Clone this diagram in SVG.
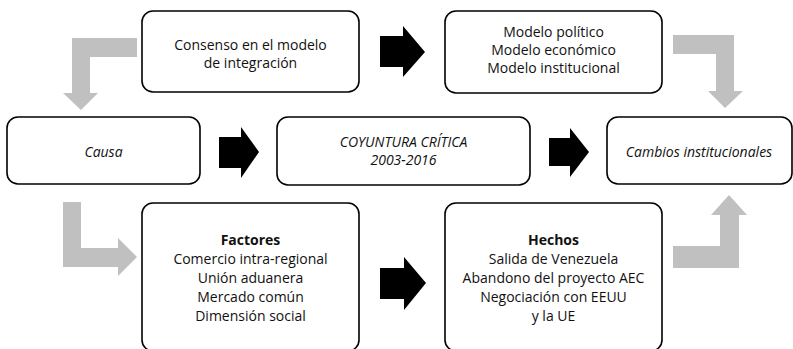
<svg xmlns="http://www.w3.org/2000/svg" width="793" height="349" viewBox="0 0 793 349">
<style>
.box{fill:#fff;stroke:#000;stroke-width:1.6}
.t{font-family:"Open Sans","Noto Sans",sans-serif;font-size:14px;fill:#111;text-anchor:middle}
.i{font-style:italic}
.b{font-weight:bold}
.blk{fill:#000}
.gry{fill:#c0c0c0}
</style>
<rect width="793" height="349" fill="#fff"/>
<g id="connectors">
<polygon class="blk" points="380,36 403,36 403,26 425,52 403,77 403,67 380,67"/>
<polygon class="blk" points="219,137 241,137 241,127 259,152 241,178 241,168 219,168"/>
<polygon class="blk" points="549,138 570,138 570,128 589,152 570,177 570,166 549,166"/>
<polygon class="blk" points="380,268 404,268 404,257 426,283 404,310 404,299 380,299"/>
<polygon class="gry" points="137,38 72,38 72,93 63,93 81,110 98,93 90,93 90,57 137,57"/>
<polygon class="gry" points="673,35 734,35 734,91 743,91 725,108 708,91 716,91 716,54 673,54"/>
<polygon class="gry" points="63,202 81,202 81,248 118,248 118,238 137,257 118,276 118,267 63,267"/>
<polygon class="gry" points="673,246 720,246 720,215 711,215 729,195 747,215 739,215 739,268 673,268"/>
</g>
<g id="consenso">
<rect class="box" x="142" y="11" width="217" height="81" rx="11"/>
<text class="t" x="250.5" y="50">Consenso en el modelo</text>
<text class="t" x="250.5" y="68">de integración</text>
</g>
<g id="modelos">
<rect class="box" x="445" y="11" width="217" height="82" rx="11"/>
<text class="t" x="553.5" y="37">Modelo político</text>
<text class="t" x="553.5" y="55">Modelo económico</text>
<text class="t" x="553.5" y="73">Modelo institucional</text>
</g>
<g id="causa">
<rect class="box" x="7" y="117" width="193" height="67" rx="11"/>
<text class="t i" x="103.5" y="157">Causa</text>
</g>
<g id="coyuntura">
<rect class="box" x="277" y="117" width="253" height="68" rx="11"/>
<text class="t i" x="403.5" y="147">COYUNTURA CRÍTICA</text>
<text class="t i" x="403.5" y="165">2003-2016</text>
</g>
<g id="cambios">
<rect class="box" x="607" y="117" width="185" height="67" rx="11"/>
<text class="t i" x="699" y="157">Cambios institucionales</text>
</g>
<g id="factores">
<rect class="box" x="142" y="203" width="217" height="148" rx="11"/>
<text class="t b" x="250.5" y="245">Factores</text>
<text class="t" x="250.5" y="264">Comercio intra-regional</text>
<text class="t" x="250.5" y="283">Unión aduanera</text>
<text class="t" x="250.5" y="302">Mercado común</text>
<text class="t" x="250.5" y="321">Dimensión social</text>
</g>
<g id="hechos">
<rect class="box" x="445" y="203" width="217" height="148" rx="11"/>
<text class="t b" x="553.5" y="245">Hechos</text>
<text class="t" x="553.5" y="264">Salida de Venezuela</text>
<text class="t" x="553.5" y="283">Abandono del proyecto AEC</text>
<text class="t" x="553.5" y="302">Negociación con EEUU</text>
<text class="t" x="553.5" y="321">y la UE</text>
</g>
</svg>
